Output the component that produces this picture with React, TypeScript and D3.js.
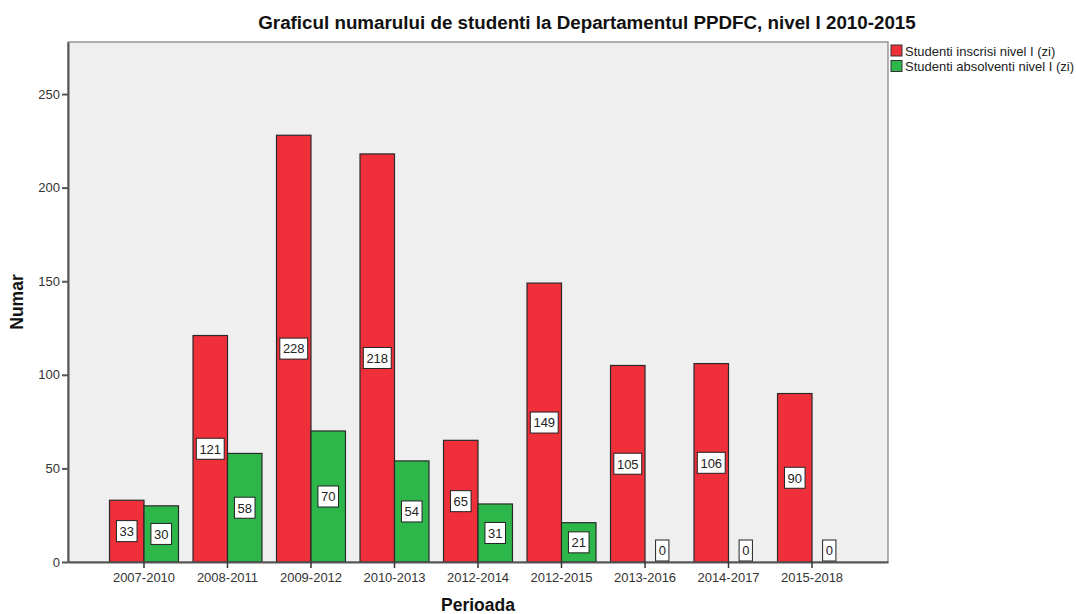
import React, { useEffect, useRef } from "react";
import * as d3 from "d3";

// Chart data
const periods = [
  "2007-2010", "2008-2011", "2009-2012", "2010-2013", "2012-2014",
  "2012-2015", "2013-2016", "2014-2017", "2015-2018",
];
const inscrisi = [33, 121, 228, 218, 65, 149, 105, 106, 90];
const absolventi = [30, 58, 70, 54, 31, 21, 0, 0, 0];
const seriesNames = ["Studenti inscrisi nivel I (zi)", "Studenti absolventi nivel I (zi)"];
const yTicks = [0, 50, 100, 150, 200, 250];

const W = 1076;
const H = 614;
const FONT = "'Liberation Sans', Arial, sans-serif";
const colors = ["#ef303a", "#2db74a"];

export default function App() {
  const svgRef = useRef<SVGSVGElement | null>(null);

  useEffect(() => {
    if (!svgRef.current) return;
    const svg = d3.select(svgRef.current);
    svg.selectAll("*").remove();

    const margin = { top: 42, right: 188, bottom: 52, left: 68 };
    const plotW = W - margin.left - margin.right;
    const plotH = H - margin.top - margin.bottom;

    const x = d3.scaleBand<string>()
      .domain(periods)
      .range([0, plotW])
      .paddingInner(0)
      .paddingOuter(0.41);
    const sub = d3.scaleBand<number>()
      .domain([0, 1])
      .range([x.bandwidth() * 0.087, x.bandwidth() * 0.913]);
    const y = d3.scaleLinear().domain([0, 277.8]).range([plotH, 0]);

    // title
    svg.append("text")
      .attr("x", 587)
      .attr("y", 29)
      .attr("text-anchor", "middle")
      .attr("font-family", FONT)
      .attr("font-weight", "bold")
      .attr("font-size", 18.8)
      .attr("fill", "#111")
      .text("Graficul numarului de studenti la Departamentul PPDFC, nivel I 2010-2015");

    const g = svg.append("g").attr("transform", `translate(${margin.left},${margin.top})`);

    // plot background
    g.append("rect")
      .attr("width", plotW)
      .attr("height", plotH)
      .attr("fill", "#efefef")
      .attr("stroke", "#666")
      .attr("stroke-width", 1);

    // bars
    const series = [inscrisi, absolventi];
    series.forEach((vals, si) => {
      g.append("g")
        .selectAll("rect")
        .data(vals)
        .join("rect")
        .attr("x", (_, i) => (x(periods[i]) ?? 0) + (sub(si) ?? 0))
        .attr("y", (d) => y(d))
        .attr("width", sub.bandwidth())
        .attr("height", (d) => plotH - y(d))
        .attr("fill", colors[si])
        .attr("stroke", "#2a2a2a")
        .attr("stroke-width", (d) => (d === 0 ? 2 : 1.2));
    });

    // axes
    const yAxis = g.append("g").call(
      d3.axisLeft(y).tickValues(yTicks).tickSize(6).tickSizeOuter(0).tickPadding(2).tickFormat(d3.format("d"))
    );
    yAxis.select(".domain").attr("stroke", "#555").attr("stroke-width", 2);
    yAxis.selectAll(".tick line").attr("stroke", "#555").attr("stroke-width", 2);
    yAxis.selectAll(".tick text")
      .attr("font-family", FONT)
      .attr("font-size", 13)
      .attr("fill", "#333");

    const xAxis = g.append("g")
      .attr("transform", `translate(0,${plotH})`)
      .call(d3.axisBottom(x).tickSize(6).tickPadding(5).tickSizeOuter(0));
    xAxis.select(".domain").attr("stroke", "#555").attr("stroke-width", 2);
    xAxis.selectAll(".tick line").attr("stroke", "#333").attr("stroke-width", 1.5);
    xAxis.selectAll(".tick text")
      .attr("font-family", FONT)
      .attr("font-size", 13)
      .attr("fill", "#333");

    // value labels
    series.forEach((vals, si) => {
      vals.forEach((v, i) => {
        const cx = (x(periods[i]) ?? 0) + (sub(si) ?? 0) + sub.bandwidth() / 2;
        const boxH = 21;
        const cy = Math.min((y(v) + plotH) / 2, plotH - boxH / 2 - 1);
        const text = String(v);
        const boxW = text.length * 7.3 + 6;
        const lg = g.append("g");
        lg.append("rect")
          .attr("x", cx - boxW / 2)
          .attr("y", cy - boxH / 2)
          .attr("width", boxW)
          .attr("height", boxH)
          .attr("fill", "#fff")
          .attr("stroke", "#222")
          .attr("stroke-width", 1);
        lg.append("text")
          .attr("x", cx)
          .attr("y", cy + 4.8)
          .attr("text-anchor", "middle")
          .attr("font-family", FONT)
          .attr("font-size", 13)
          .attr("fill", "#222")
          .text(text);
      });
    });

    // axis titles
    svg.append("text")
      .attr("transform", `translate(23,${margin.top + plotH / 2}) rotate(-90)`)
      .attr("text-anchor", "middle")
      .attr("font-family", FONT)
      .attr("font-weight", "bold")
      .attr("font-size", 17.5)
      .attr("fill", "#111")
      .text("Numar");
    svg.append("text")
      .attr("x", margin.left + plotW / 2)
      .attr("y", 611)
      .attr("text-anchor", "middle")
      .attr("font-family", FONT)
      .attr("font-weight", "bold")
      .attr("font-size", 17.5)
      .attr("fill", "#111")
      .text("Perioada");

    // legend
    const legend = svg.append("g").attr("transform", "translate(891,45)");
    seriesNames.forEach((name, i) => {
      legend.append("rect")
        .attr("x", 0)
        .attr("y", i * 15.5)
        .attr("width", 11)
        .attr("height", 11)
        .attr("fill", colors[i])
        .attr("stroke", "#333")
        .attr("stroke-width", 1);
      legend.append("text")
        .attr("x", 14)
        .attr("y", i * 15.5 + 10.5)
        .attr("font-family", FONT)
        .attr("font-size", 13)
        .attr("fill", "#222")
        .text(name);
    });
  }, []);

  return (
    <div style={{ position: "absolute", left: 0, top: 0, background: "#fff" }}>
      <svg ref={svgRef} width={W} height={H} style={{ display: "block" }}></svg>
    </div>
  );
}
